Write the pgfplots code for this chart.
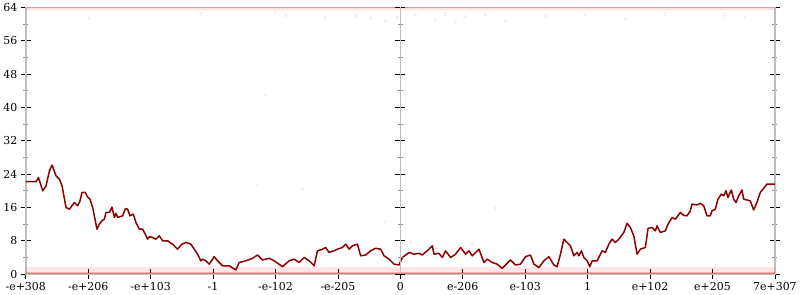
\documentclass[border=0pt]{standalone}
\usepackage{pgfplots}
\pgfplotsset{compat=1.18}
\usepackage{fontspec}
\setmainfont{DejaVu Serif}
\definecolor{lineRed}{RGB}{139,0,0}
\definecolor{axGray}{RGB}{190,190,190}
\pgfplotsset{
  common/.style={
    scale only axis, width=750bp, height=267bp,
    ymin=0, ymax=64,
    tick align=center,
    major tick length=10bp, minor tick length=5bp,
    major tick style={black, line width=0.8bp},
    minor tick style={black!45, line width=0.8bp},
    tick label style={font=\fontsize{11}{13}\selectfont},
    /pgf/number format/assume math mode=true,
  }
}
\begin{document}
\begin{tikzpicture}
\begin{axis}[common,
  xmin=0, xmax=750,
  axis line style={axGray, line width=1.6bp},
  xtick={0,62.5,...,750},
  xticklabels={-e+308,-e+206,-e+103,-1,-e-102,-e-205,0,e-206,e-103,1,e+102,e+205,7e+307},
  xtick pos=bottom, ytick pos=both, yticklabel pos=left,
  ytick={0,8,...,64}, minor y tick num=1,
]
% faint bands of scattered points
\addplot[draw=none, fill=red, fill opacity=0.10] coordinates {(0,0) (750,0) (750,1.8) (0,1.8)} -- cycle;
\addplot[draw=none, fill=red, fill opacity=0.25] coordinates {(0,0) (750,0) (750,0.6) (0,0.6)} -- cycle;
\addplot[draw=none, fill=red, fill opacity=0.12] coordinates {(0,63.4) (750,63.4) (750,64) (0,64)} -- cycle;
\addplot[only marks, mark=*, mark size=1.6bp, red, opacity=0.06] coordinates {
(63,61.4) (232,21.3) (277,20.4) (360,12.5) (470,15.8) (385,7.7) (447,7.2)
(330,62) (345,61.5) (360,60.8) (372,61.8) (390,62.2) (410,61) (420,62.5) (430,60.5) (440,61.8) (460,62.1) (480,60.7) (520,61.9) (560,62.3) (600,61.2)
(175,62.5) (260,62) (300,61.6) (240,43) (250,63) (640,62.4) (700,62) (720,61.6)
};
\addplot[lineRed, line width=1.5bp, line join=round] coordinates {
(0,22.2) (10.3,22.2) (12.7,23.2) (17,20.0) (20.3,21.2) (23.7,24.8) (26.3,26.2) (30.3,23.6)
(33.7,22.8) (36.3,21.2) (40.3,16.0) (43.7,15.6) (48.7,17.2) (52,16.4) (54.3,17.6) (56.3,19.6)
(59.7,19.6) (62,18.5) (64.3,18.0) (67,16.0) (71.3,10.8) (73.7,12.0) (76.3,12.8) (78.7,13.2)
(80.3,14.8) (83.7,14.8) (86.3,16.1) (88.7,13.6) (90.3,14.6) (92,13.6) (97,14.0) (99.7,15.7)
(102,15.6) (104.3,14.0) (107.7,14.4) (110.3,12.4) (113.7,10.8) (117,10.8) (120,9.4) (122,8.4)
(124,9.0) (127,8.8) (130.3,8.4) (133.7,9.2) (137,8.0) (142,8.0) (147,7.2) (152,6.0)
(156.3,7.2) (160.3,7.6) (165.3,7.2) (168.7,6.0) (172,4.8) (175.3,3.2) (177,3.6) (180.3,3.2)
(183.7,2.4) (188.7,4.2) (192,3.2) (197,2.0) (203.7,2.0) (210.3,1.0) (213.7,2.8) (220.3,3.2)
(227,3.8) (232,4.6) (237,3.4) (243.7,3.8) (248.7,3.2) (257,1.8) (263.7,3.2) (268.7,3.6)
(273.7,2.8) (278.7,4.0) (283.7,3.2) (288.7,2.0) (292,5.6) (297,6.0) (300.3,6.4) (303.7,5.2)
(308.7,5.6) (312,6.0) (317,6.4) (320.3,7.2) (323.7,6.0) (327,6.8) (332,7.2) (335.3,4.4)
(340.3,4.6) (345.3,5.6) (350.3,6.2) (355.3,6.0) (358.7,4.4) (363.7,3.6) (368.7,2.4) (373.7,2.2)
(377,4.0) (383.7,5.2) (388.7,4.8) (393.7,5.0) (397,4.6) (403.7,6.0) (407,6.8) (408.7,4.8)
(413.7,5.0) (417,4.0) (420.3,5.6) (425.3,4.0) (430.3,4.8) (435.3,6.4) (440.3,4.8) (443.7,5.6)
(447,4.4) (453.7,6.0) (458.7,2.8) (462,3.6) (467,2.8) (472,2.4) (477,1.4) (485.3,3.4)
(490.3,2.2) (495.3,2.4) (500.3,4.2) (505.3,4.6) (508.7,2.4) (513.7,1.6) (518.7,3.2) (523.7,4.2)
(528.7,2.2) (532,1.8) (535.3,4.8) (538.7,8.4) (542,7.6) (545.3,6.8) (548.7,4.4) (552,5.2)
(553.7,4.4) (556.3,5.6) (558.7,4.0) (562,3.2) (564.7,1.8) (567,3.2) (572,3.2) (577,5.6)
(580.3,5.2) (583.7,7.2) (587,8.4) (590.3,7.6) (593.7,8.4) (598.7,10.0) (602,12.2) (605.3,11.2)
(608.7,9.2) (612,4.8) (615.3,6.0) (620.3,6.4) (623,11.0) (627,11.2) (630.3,10.4) (632,11.6)
(635.3,10.0) (640.3,10.4) (643,12.0) (647,13.6) (650.3,13.2) (655.3,14.8) (658.7,14.1) (662,14.0)
(665.3,15.2) (667,16.8) (672,16.6) (675.3,17.0) (678.7,16.4) (682,14.0) (685.3,14.0) (687,15.2)
(690.3,15.6) (693,18.0) (696.3,19.2) (698.7,18.8) (701,20.0) (703,18.4) (706.3,20.2) (708.7,18.0)
(711,17.2) (713.7,18.8) (717,20.2) (718.7,18.0) (722,17.8) (725.3,17.6) (728.7,15.4) (732,17.2)
(735.3,19.6) (738.7,20.6) (742,21.6) (750,21.6)
};
\end{axis}
\begin{axis}[common,
  xmin=-1, xmax=1,
  axis x line=none, axis y line=middle,
  axis line style={axGray, line width=1.6bp, -},
  ytick={0,8,...,64}, minor y tick num=1, yticklabels={},
]
\end{axis}
\end{tikzpicture}
\end{document}
